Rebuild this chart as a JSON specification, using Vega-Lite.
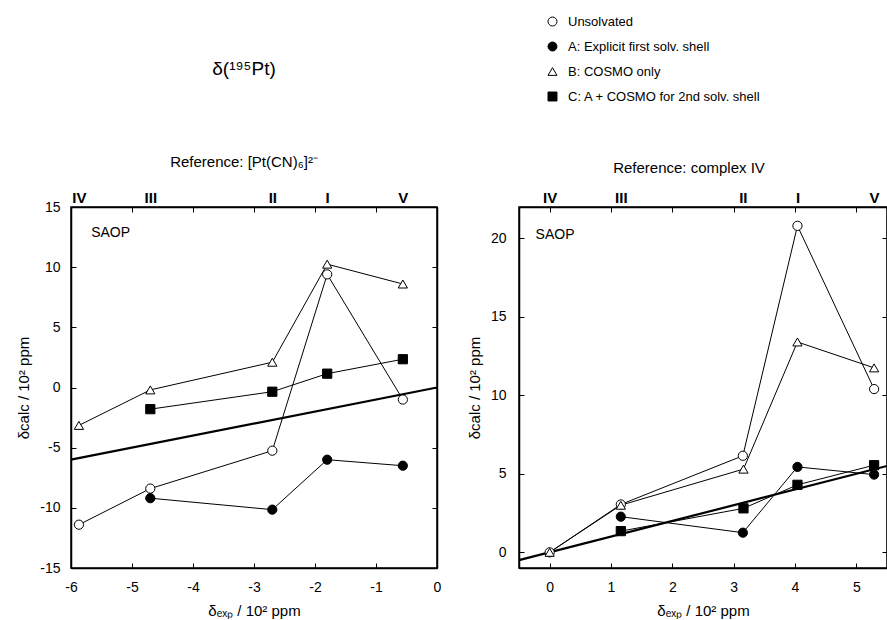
{
  "$schema": "https://vega.github.io/schema/vega-lite/v6.json",
  "padding": {"left": 16, "top": 15, "right": 0, "bottom": 0},
  "bounds": "flush",
  "spacing": 82,
  "config": {
    "font": "Liberation Sans",
    "view": {"stroke": "black", "strokeWidth": 1.5},
    "axis": {"domainColor": "black", "domainWidth": 1.5, "tickColor": "black", "tickWidth": 1, "tickSize": -5, "labelFontSize": 14, "labelColor": "black", "labelFont": "Liberation Sans", "titleFont": "Liberation Sans", "titleFontSize": 15, "titleFontWeight": "normal", "titleColor": "black", "grid": false, "labelFlush": false, "labelOverlap": false, "labelBound": false},
    "title": {"font": "Liberation Sans", "fontWeight": "normal", "color": "black", "subtitleFont": "Liberation Sans", "subtitleColor": "black"}
  },
  "datasets": {
    "L": [
      {"series": "Unsolvated", "cpd": "IV", "x": -5.87, "y": -11.4},
      {"series": "Unsolvated", "cpd": "III", "x": -4.70, "y": -8.4},
      {"series": "Unsolvated", "cpd": "II", "x": -2.70, "y": -5.25},
      {"series": "Unsolvated", "cpd": "I", "x": -1.80, "y": 9.4},
      {"series": "Unsolvated", "cpd": "V", "x": -0.56, "y": -1.0},
      {"series": "A: Explicit first solv. shell", "cpd": "III", "x": -4.70, "y": -9.2},
      {"series": "A: Explicit first solv. shell", "cpd": "II", "x": -2.70, "y": -10.15},
      {"series": "A: Explicit first solv. shell", "cpd": "I", "x": -1.80, "y": -6.0},
      {"series": "A: Explicit first solv. shell", "cpd": "V", "x": -0.56, "y": -6.5},
      {"series": "B: COSMO only", "cpd": "IV", "x": -5.87, "y": -3.15},
      {"series": "B: COSMO only", "cpd": "III", "x": -4.70, "y": -0.2},
      {"series": "B: COSMO only", "cpd": "II", "x": -2.70, "y": 2.1},
      {"series": "B: COSMO only", "cpd": "I", "x": -1.80, "y": 10.25},
      {"series": "B: COSMO only", "cpd": "V", "x": -0.56, "y": 8.6},
      {"series": "C: A + COSMO for 2nd solv. shell", "cpd": "III", "x": -4.70, "y": -1.8},
      {"series": "C: A + COSMO for 2nd solv. shell", "cpd": "II", "x": -2.70, "y": -0.35},
      {"series": "C: A + COSMO for 2nd solv. shell", "cpd": "I", "x": -1.80, "y": 1.15},
      {"series": "C: A + COSMO for 2nd solv. shell", "cpd": "V", "x": -0.56, "y": 2.35}
    ],
    "R": [
      {"series": "Unsolvated", "cpd": "IV", "x": 0, "y": 0},
      {"series": "Unsolvated", "cpd": "III", "x": 1.16, "y": 3.05},
      {"series": "Unsolvated", "cpd": "II", "x": 3.15, "y": 6.15},
      {"series": "Unsolvated", "cpd": "I", "x": 4.04, "y": 20.8},
      {"series": "Unsolvated", "cpd": "V", "x": 5.29, "y": 10.4},
      {"series": "A: Explicit first solv. shell", "cpd": "III", "x": 1.16, "y": 2.27},
      {"series": "A: Explicit first solv. shell", "cpd": "II", "x": 3.15, "y": 1.25},
      {"series": "A: Explicit first solv. shell", "cpd": "I", "x": 4.04, "y": 5.44},
      {"series": "A: Explicit first solv. shell", "cpd": "V", "x": 5.29, "y": 4.95},
      {"series": "B: COSMO only", "cpd": "IV", "x": 0, "y": 0},
      {"series": "B: COSMO only", "cpd": "III", "x": 1.16, "y": 3.0},
      {"series": "B: COSMO only", "cpd": "II", "x": 3.16, "y": 5.3},
      {"series": "B: COSMO only", "cpd": "I", "x": 4.04, "y": 13.4},
      {"series": "B: COSMO only", "cpd": "V", "x": 5.29, "y": 11.75},
      {"series": "C: A + COSMO for 2nd solv. shell", "cpd": "III", "x": 1.16, "y": 1.35},
      {"series": "C: A + COSMO for 2nd solv. shell", "cpd": "II", "x": 3.16, "y": 2.8},
      {"series": "C: A + COSMO for 2nd solv. shell", "cpd": "I", "x": 4.04, "y": 4.3},
      {"series": "C: A + COSMO for 2nd solv. shell", "cpd": "V", "x": 5.29, "y": 5.55}
    ],
    "refL": [{"x": -6, "y": -6}, {"x": 0, "y": 0}],
    "refR": [{"x": -0.5, "y": -0.5}, {"x": 5.5, "y": 5.5}],
    "noteL": [{"x": -5.67, "y": 12.8, "t": "SAOP"}],
    "noteR": [{"x": -0.23, "y": 20.2, "t": "SAOP"}]
  },
  "hconcat": [
    {
      "width": 366,
      "height": 361,
      "title": {"text": "δ(¹⁹⁵Pt)", "subtitle": "Reference: [Pt(CN)₆]²⁻", "fontSize": 19, "subtitleFontSize": 15, "subtitlePadding": 76, "anchor": "middle", "dx": -10, "offset": 20},
      "resolve": {"axis": {"x": "independent", "y": "independent"}},
      "layer": [
        {
          "data": {"name": "refL"},
          "mark": {"type": "line", "color": "black", "strokeWidth": 2.2},
          "encoding": {
            "x": {"field": "x", "type": "quantitative", "scale": {"domain": [-6, 0], "nice": false, "zero": false},
                  "axis": {"orient": "bottom", "values": [-6, -5, -4, -3, -2, -1, 0], "title": "δₑₓₚ / 10² ppm", "labelPadding": 17, "titlePadding": 9, "labelExpr": "'' + datum.value"}},
            "y": {"field": "y", "type": "quantitative", "scale": {"domain": [-15, 15], "nice": false, "zero": false},
                  "axis": {"orient": "left", "values": [-15, -10, -5, 0, 5, 10, 15], "title": "δcalc / 10² ppm", "labelPadding": 16, "titlePadding": 8, "labelExpr": "'' + datum.value"}}
          }
        },
        {
          "data": {"name": "L"},
          "mark": {"type": "line", "color": "black", "strokeWidth": 1},
          "encoding": {
            "x": {"field": "x", "type": "quantitative", "scale": {"domain": [-6, 0], "nice": false, "zero": false},
                  "axis": {"orient": "top", "title": null, "values": [-6, -5, -4, -3, -2, -1, 0, -5.87, -4.7, -2.7, -1.8, -0.56], "labelExpr": "datum.value == -5.87 ? 'IV' : datum.value == -4.7 ? 'III' : datum.value == -2.7 ? 'II' : datum.value == -1.8 ? 'I' : datum.value == -0.56 ? 'V' : ''", "labelFontWeight": "bold", "labelFontSize": 15, "labelPadding": 7, "tickOpacity": {"condition": {"test": "datum.value % 1 == 0", "value": 1}, "value": 0}}},
            "y": {"field": "y", "type": "quantitative", "scale": {"domain": [-15, 15], "nice": false, "zero": false},
                  "axis": {"orient": "right", "title": null, "labels": false, "values": [-15, -10, -5, 0, 5, 10, 15]}},
            "detail": {"field": "series", "type": "nominal"}
          }
        },
        {
          "data": {"name": "L"},
          "mark": {"type": "point", "opacity": 1, "stroke": "black", "strokeWidth": 1, "size": 85},
          "encoding": {
            "x": {"field": "x", "type": "quantitative", "scale": {"domain": [-6, 0], "nice": false, "zero": false}, "axis": null},
            "y": {"field": "y", "type": "quantitative", "scale": {"domain": [-15, 15], "nice": false, "zero": false}, "axis": null},
            "shape": {"field": "series", "type": "nominal",
                      "scale": {"domain": ["Unsolvated", "A: Explicit first solv. shell", "B: COSMO only", "C: A + COSMO for 2nd solv. shell"], "range": ["circle", "circle", "triangle-up", "square"]},
                      "legend": {"orient": "none", "legendX": 475, "legendY": -192, "title": null, "labelFontSize": 13, "labelColor": "black", "labelLimit": 400, "symbolSize": 80, "symbolStrokeWidth": 1, "symbolStrokeColor": "black", "symbolOpacity": 1, "rowPadding": 11, "labelOffset": 9, "padding": 0, "encode": {"symbols": {"update": {"stroke": {"value": "black"}, "strokeWidth": {"value": 1}, "opacity": {"value": 1}}}}}},
            "fill": {"field": "series", "type": "nominal",
                     "scale": {"domain": ["Unsolvated", "A: Explicit first solv. shell", "B: COSMO only", "C: A + COSMO for 2nd solv. shell"], "range": ["white", "black", "white", "black"]},
                     "legend": {"orient": "none", "legendX": 475, "legendY": -192, "title": null, "labelFontSize": 13, "labelColor": "black", "labelLimit": 400, "symbolSize": 80, "symbolStrokeWidth": 1, "symbolStrokeColor": "black", "symbolOpacity": 1, "rowPadding": 11, "labelOffset": 9, "padding": 0, "encode": {"symbols": {"update": {"stroke": {"value": "black"}, "strokeWidth": {"value": 1}, "opacity": {"value": 1}}}}}}
          }
        },
        {
          "data": {"name": "noteL"},
          "mark": {"type": "text", "align": "left", "baseline": "middle", "fontSize": 14, "color": "black"},
          "encoding": {
            "x": {"field": "x", "type": "quantitative", "scale": {"domain": [-6, 0], "nice": false, "zero": false}, "axis": null},
            "y": {"field": "y", "type": "quantitative", "scale": {"domain": [-15, 15], "nice": false, "zero": false}, "axis": null},
            "text": {"field": "t"}
          }
        }
      ]
    },
    {
      "width": 368,
      "height": 361,
      "title": {"text": "Reference: complex IV", "fontSize": 15, "anchor": "middle", "dx": -14, "offset": 14},
      "resolve": {"axis": {"x": "independent", "y": "independent"}},
      "layer": [
        {
          "data": {"name": "refR"},
          "mark": {"type": "line", "color": "black", "strokeWidth": 2.2},
          "encoding": {
            "x": {"field": "x", "type": "quantitative", "scale": {"domain": [-0.5, 5.5], "nice": false, "zero": false},
                  "axis": {"orient": "bottom", "values": [0, 1, 2, 3, 4, 5], "title": "δₑₓₚ / 10² ppm", "labelPadding": 17, "titlePadding": 9, "labelExpr": "'' + datum.value"}},
            "y": {"field": "y", "type": "quantitative", "scale": {"domain": [-1, 22], "nice": false, "zero": false},
                  "axis": {"orient": "left", "values": [0, 5, 10, 15, 20], "title": "δcalc / 10² ppm", "labelPadding": 18, "titlePadding": 8, "labelExpr": "'' + datum.value"}}
          }
        },
        {
          "data": {"name": "R"},
          "mark": {"type": "line", "color": "black", "strokeWidth": 1},
          "encoding": {
            "x": {"field": "x", "type": "quantitative", "scale": {"domain": [-0.5, 5.5], "nice": false, "zero": false},
                  "axis": {"orient": "top", "title": null, "values": [0, 1, 2, 3, 4, 5, 1.16, 3.15, 4.04, 5.29], "labelExpr": "datum.value == 0 ? 'IV' : datum.value == 1.16 ? 'III' : datum.value == 3.15 ? 'II' : datum.value == 4.04 ? 'I' : datum.value == 5.29 ? 'V' : ''", "labelFontWeight": "bold", "labelFontSize": 15, "labelPadding": 7, "tickOpacity": {"condition": {"test": "datum.value % 1 == 0", "value": 1}, "value": 0}}},
            "y": {"field": "y", "type": "quantitative", "scale": {"domain": [-1, 22], "nice": false, "zero": false},
                  "axis": {"orient": "right", "title": null, "labels": false, "values": [0, 5, 10, 15, 20]}},
            "detail": {"field": "series", "type": "nominal"}
          }
        },
        {
          "data": {"name": "R"},
          "mark": {"type": "point", "opacity": 1, "stroke": "black", "strokeWidth": 1, "size": 85},
          "encoding": {
            "x": {"field": "x", "type": "quantitative", "scale": {"domain": [-0.5, 5.5], "nice": false, "zero": false}, "axis": null},
            "y": {"field": "y", "type": "quantitative", "scale": {"domain": [-1, 22], "nice": false, "zero": false}, "axis": null},
            "shape": {"field": "series", "type": "nominal",
                      "scale": {"domain": ["Unsolvated", "A: Explicit first solv. shell", "B: COSMO only", "C: A + COSMO for 2nd solv. shell"], "range": ["circle", "circle", "triangle-up", "square"]},
                      "legend": {"orient": "none", "legendX": 475, "legendY": -192, "title": null, "labelFontSize": 13, "labelColor": "black", "labelLimit": 400, "symbolSize": 80, "symbolStrokeWidth": 1, "symbolStrokeColor": "black", "symbolOpacity": 1, "rowPadding": 11, "labelOffset": 9, "padding": 0, "encode": {"symbols": {"update": {"stroke": {"value": "black"}, "strokeWidth": {"value": 1}, "opacity": {"value": 1}}}}}},
            "fill": {"field": "series", "type": "nominal",
                     "scale": {"domain": ["Unsolvated", "A: Explicit first solv. shell", "B: COSMO only", "C: A + COSMO for 2nd solv. shell"], "range": ["white", "black", "white", "black"]},
                     "legend": {"orient": "none", "legendX": 475, "legendY": -192, "title": null, "labelFontSize": 13, "labelColor": "black", "labelLimit": 400, "symbolSize": 80, "symbolStrokeWidth": 1, "symbolStrokeColor": "black", "symbolOpacity": 1, "rowPadding": 11, "labelOffset": 9, "padding": 0, "encode": {"symbols": {"update": {"stroke": {"value": "black"}, "strokeWidth": {"value": 1}, "opacity": {"value": 1}}}}}}
          }
        },
        {
          "data": {"name": "noteR"},
          "mark": {"type": "text", "align": "left", "baseline": "middle", "fontSize": 14, "color": "black"},
          "encoding": {
            "x": {"field": "x", "type": "quantitative", "scale": {"domain": [-0.5, 5.5], "nice": false, "zero": false}, "axis": null},
            "y": {"field": "y", "type": "quantitative", "scale": {"domain": [-1, 22], "nice": false, "zero": false}, "axis": null},
            "text": {"field": "t"}
          }
        }
      ]
    }
  ]
}
